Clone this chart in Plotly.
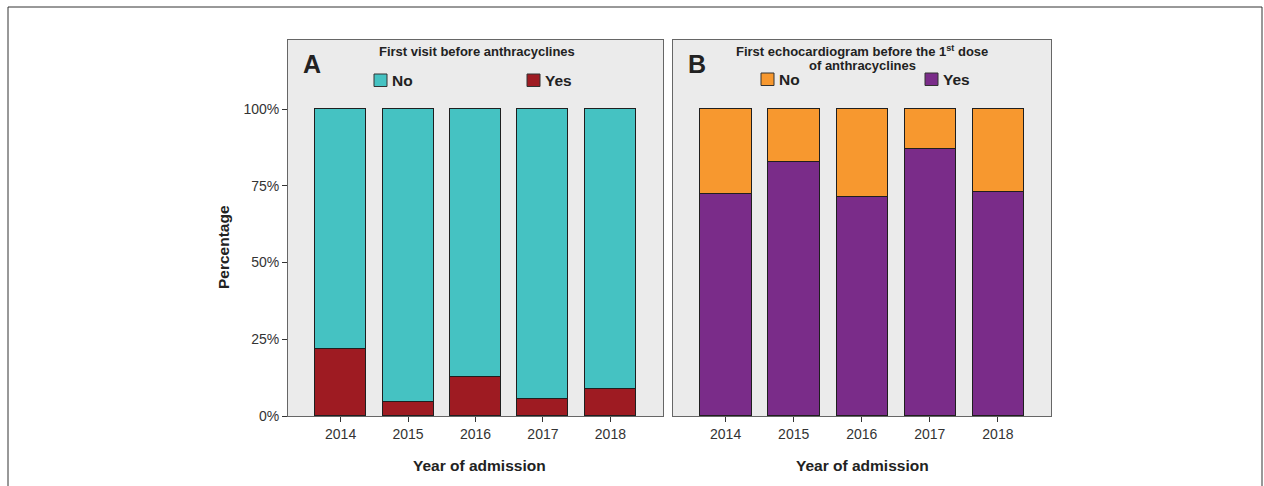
import plotly.graph_objects as go

# Year of admission
years = ["2014", "2015", "2016", "2017", "2018"]

# Panel A: first visit before anthracyclines (% of patients)
visit_yes = [21.8, 4.7, 12.7, 5.6, 8.9]
visit_no = [round(100 - v, 1) for v in visit_yes]

# Panel B: first echocardiogram before the 1st dose of anthracyclines (%)
echo_yes = [72.3, 82.7, 71.5, 87.0, 73.0]
echo_no = [round(100 - v, 1) for v in echo_yes]

y_ticks = [0, 25, 50, 75, 100]
y_tick_labels = ["0%", "25%", "50%", "75%", "100%"]

W, H = 1264, 486
FONT = "Arial, 'Liberation Sans', sans-serif"
TEAL, RED, ORANGE, PURPLE = "#45C2C2", "#9E1B22", "#F7982F", "#7A2C89"
EDGE = "#1f1f1f"


def px(x):
    return x / W


def py(y):
    return 1 - y / H


fig = go.Figure()

bar_w = 0.755
fig.add_trace(go.Bar(x=years, y=visit_yes, name="Yes", marker=dict(color=RED, line=dict(color=EDGE, width=1)),
                     width=bar_w, xaxis="x", yaxis="y", showlegend=False))
fig.add_trace(go.Bar(x=years, y=visit_no, name="No", marker=dict(color=TEAL, line=dict(color=EDGE, width=1)),
                     width=bar_w, xaxis="x", yaxis="y", showlegend=False))
fig.add_trace(go.Bar(x=years, y=echo_yes, name="Yes", marker=dict(color=PURPLE, line=dict(color=EDGE, width=1)),
                     width=bar_w, xaxis="x2", yaxis="y2", showlegend=False))
fig.add_trace(go.Bar(x=years, y=echo_no, name="No", marker=dict(color=ORANGE, line=dict(color=EDGE, width=1)),
                     width=bar_w, xaxis="x2", yaxis="y2", showlegend=False))

y_top = 376 / 307 * 100
xaxis_common = dict(type="category", range=[-0.78, 4.78], showline=True, mirror=True, linecolor="#666",
                    linewidth=1, ticks="outside", ticklen=5, tickcolor="#333", showgrid=False,
                    tickfont=dict(family=FONT, size=14, color="#333"), zeroline=False, automargin=False)
yaxis_common = dict(range=[0, y_top], showline=True, mirror=True, linecolor="#666", linewidth=1,
                    showgrid=False, zeroline=False, tickmode="array", tickvals=y_ticks,
                    ticktext=y_tick_labels, automargin=False)

fig.update_layout(
    template="none",
    width=W, height=H, autosize=False, margin=dict(l=0, r=0, t=0, b=0, pad=0),
    paper_bgcolor="white", plot_bgcolor="#EBEBEB", barmode="stack", bargap=0,
    xaxis=dict(domain=[px(288), px(663)], anchor="y", **xaxis_common),
    yaxis=dict(domain=[py(416), py(40)], anchor="x", ticks="outside", ticklen=5, tickcolor="#333",
               tickfont=dict(family=FONT, size=14, color="#333"), **yaxis_common),
    xaxis2=dict(domain=[px(672.5), px(1051)], anchor="y2", **xaxis_common),
    yaxis2=dict(domain=[py(416), py(40)], anchor="x2", showticklabels=False, ticks="", **yaxis_common),
    font=dict(family=FONT, color="#222"),
)

frame = dict(color="#333", width=1)
shapes = [
    # outer frame: open at the bottom edge of the page
    dict(type="line", xref="paper", yref="paper", x0=px(8), x1=px(1262), y0=py(7), y1=py(7), line=frame),
    dict(type="line", xref="paper", yref="paper", x0=px(8), x1=px(8), y0=py(7), y1=0, line=frame),
    dict(type="line", xref="paper", yref="paper", x0=px(1262), x1=px(1262), y0=py(7), y1=0, line=frame),
]
annotations = []


def legend_item(x0, ytop, color, label):
    shapes.append(dict(type="rect", xref="paper", yref="paper", x0=px(x0), x1=px(x0 + 13),
                       y0=py(ytop + 12.5), y1=py(ytop), fillcolor=color, line=dict(color="#333", width=1)))
    annotations.append(dict(xref="paper", yref="paper", x=px(x0 + 16), y=py(ytop + 6.5), text=f"<b>{label}</b>",
                            showarrow=False, xanchor="left", yanchor="middle",
                            font=dict(family=FONT, size=15.5, color="#222")))


def text(x, y, s, size, xanchor="center", textangle=0):
    annotations.append(dict(xref="paper", yref="paper", x=px(x), y=py(y), text=s, showarrow=False,
                            xanchor=xanchor, yanchor="middle", textangle=textangle,
                            font=dict(family=FONT, size=size, color="#222")))


# Panel A header
text(301, 64, "<b>A</b>", 25, xanchor="left")
text(477, 52, "<b>First visit before anthracyclines</b>", 13)
legend_item(374, 74, TEAL, "No")
legend_item(527, 74, RED, "Yes")

# Panel B header
text(686, 64, "<b>B</b>", 25, xanchor="left")
text(862, 51.5, "<b>First echocardiogram before the 1<sup>st</sup> dose</b>", 13)
text(862, 65, "<b>of anthracyclines</b>", 13)
legend_item(761, 73, ORANGE, "No")
legend_item(925, 73, PURPLE, "Yes")

# Axis titles
text(224, 247, "<b>Percentage</b>", 15.5, textangle=-90)
text(479, 465, "<b>Year of admission</b>", 15.5)
text(862, 465, "<b>Year of admission</b>", 15.5)

fig.update_layout(shapes=shapes, annotations=annotations)
fig.write_html("out.html")
